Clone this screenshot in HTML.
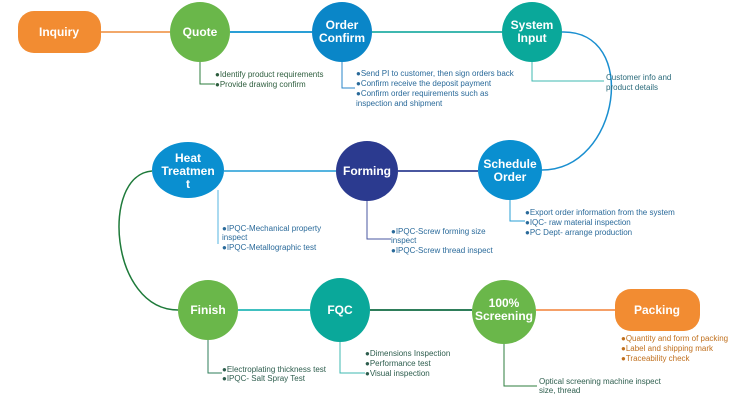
<!DOCTYPE html>
<html><head><meta charset="utf-8"><style>
html,body{margin:0;padding:0;background:#fff;width:750px;height:400px;overflow:hidden}
svg{display:block}
text{font-family:"Liberation Sans",sans-serif}
.n{fill:#fff;font-weight:bold;font-size:12px;text-anchor:middle}
.s{font-size:8px}
</style></head><body>
<svg width="750" height="400" viewBox="0 0 750 400" xmlns="http://www.w3.org/2000/svg">
<!-- connectors row1 -->
<line x1="100" y1="32" x2="170" y2="32" stroke="#f2a86a" stroke-width="2"/>
<line x1="230" y1="32" x2="312" y2="32" stroke="#2a9fd6" stroke-width="2"/>
<line x1="372" y1="32" x2="502" y2="32" stroke="#3fb8b0" stroke-width="2"/>
<path d="M562 32 C640 30,620 170,542 170" fill="none" stroke="#1a8fd0" stroke-width="1.5"/>
<!-- row2 -->
<line x1="224" y1="171" x2="336" y2="171" stroke="#55b4e0" stroke-width="2"/>
<line x1="398" y1="171" x2="478" y2="171" stroke="#4a57a0" stroke-width="2"/>
<path d="M152 171 C100 175,110 310,178 310" fill="none" stroke="#1e7a3a" stroke-width="1.5"/>
<!-- row3 -->
<line x1="238" y1="310" x2="310" y2="310" stroke="#40c0c0" stroke-width="2"/>
<line x1="370" y1="310" x2="472" y2="310" stroke="#2e7d5a" stroke-width="2"/>
<line x1="536" y1="310" x2="615" y2="310" stroke="#f5a068" stroke-width="2"/>

<!-- sub branches -->
<polyline points="200,62 200,84 215,84" fill="none" stroke="#2e7d3e" stroke-width="1"/>
<polyline points="342,62 342,88 355,88" fill="none" stroke="#2a86c8" stroke-width="1"/>
<polyline points="532,62 532,81 604,81" fill="none" stroke="#3fb8b0" stroke-width="1"/>
<line x1="218" y1="190" x2="218" y2="244" stroke="#55b4e0" stroke-width="1"/>
<polyline points="367,200 367,239 391,239" fill="none" stroke="#4a57a0" stroke-width="1"/>
<polyline points="510,200 510,221 525,221" fill="none" stroke="#2a9fd6" stroke-width="1"/>
<polyline points="208,340 208,373 222,373" fill="none" stroke="#2e7d5a" stroke-width="1"/>
<polyline points="340,342 340,373 365,373" fill="none" stroke="#3fb8b0" stroke-width="1"/>
<polyline points="504,344 504,386 537,386" fill="none" stroke="#2e7d3e" stroke-width="1"/>

<!-- nodes -->
<rect x="18" y="11" width="83" height="42" rx="16" fill="#f28c32"/>
<text class="n" x="59" y="36">Inquiry</text>
<ellipse cx="200" cy="32" rx="30" ry="30" fill="#6ab74a"/>
<text class="n" x="200" y="36">Quote</text>
<ellipse cx="342" cy="32" rx="30" ry="30" fill="#0a86c8"/>
<text class="n" x="342" y="29">Order</text><text class="n" x="342" y="42">Confirm</text>
<ellipse cx="532" cy="32" rx="30" ry="30" fill="#0aa89a"/>
<text class="n" x="532" y="29">System</text><text class="n" x="532" y="42">Input</text>

<ellipse cx="188" cy="170" rx="36" ry="28" fill="#0a8fd0"/>
<text class="n" x="188" y="162">Heat</text><text class="n" x="188" y="175">Treatmen</text><text class="n" x="188" y="188">t</text>
<ellipse cx="367" cy="171" rx="31" ry="30" fill="#2b3a8f"/>
<text class="n" x="367" y="175">Forming</text>
<ellipse cx="510" cy="170" rx="32" ry="30" fill="#0a8fd0"/>
<text class="n" x="510" y="168">Schedule</text><text class="n" x="510" y="181">Order</text>

<ellipse cx="208" cy="310" rx="30" ry="30" fill="#6ab74a"/>
<text class="n" x="208" y="314">Finish</text>
<ellipse cx="340" cy="310" rx="30" ry="32" fill="#0aa89a"/>
<text class="n" x="340" y="314">FQC</text>
<ellipse cx="504" cy="312" rx="32" ry="32" fill="#6ab74a"/>
<text class="n" x="504" y="307">100%</text><text class="n" x="504" y="320">Screening</text>
<rect x="615" y="289" width="85" height="42" rx="16" fill="#f28c32"/>
<text class="n" x="657" y="314">Packing</text>

<!-- sub text -->
<g class="s" fill="#2e5e3e">
<text x="215" y="77">●Identify product requirements</text>
<text x="215" y="87">●Provide drawing confirm</text>
</g>
<g class="s" fill="#2a6a9a">
<text x="356" y="76">●Send PI to customer, then sign orders back</text>
<text x="356" y="86">●Confirm receive the deposit payment</text>
<text x="356" y="96">●Confirm order requirements such as</text>
<text x="356" y="106">inspection and shipment</text>
</g>
<g class="s" fill="#2a6a7a">
<text x="606" y="80">Customer info and</text>
<text x="606" y="90">product details</text>
</g>
<g class="s" fill="#2a6a9a">
<text x="222" y="231">●IPQC-Mechanical property</text>
<text x="222" y="240">inspect</text>
<text x="222" y="250">●IPQC-Metallographic test</text>
<text x="391" y="234">●IPQC-Screw forming size</text>
<text x="391" y="243">inspect</text>
<text x="391" y="253">●IPQC-Screw thread inspect</text>
<text x="525" y="215">●Export order information from the system</text>
<text x="525" y="225">●IQC- raw material inspection</text>
<text x="525" y="235">●PC Dept-  arrange production</text>
</g>
<g class="s" fill="#2e5e4e">
<text x="222" y="372">●Electroplating thickness test</text>
<text x="222" y="381">●IPQC- Salt Spray Test</text>
<text x="365" y="356">●Dimensions Inspection</text>
<text x="365" y="366">●Performance test</text>
<text x="365" y="376">●Visual inspection</text>
<text x="539" y="384">Optical screening machine inspect</text>
<text x="539" y="393">size, thread</text>
</g>
<g class="s" fill="#c0701e">
<text x="621" y="341">●Quantity and form of packing</text>
<text x="621" y="351">●Label and shipping mark</text>
<text x="621" y="361">●Traceability check</text>
</g>
</svg>
</body></html>
